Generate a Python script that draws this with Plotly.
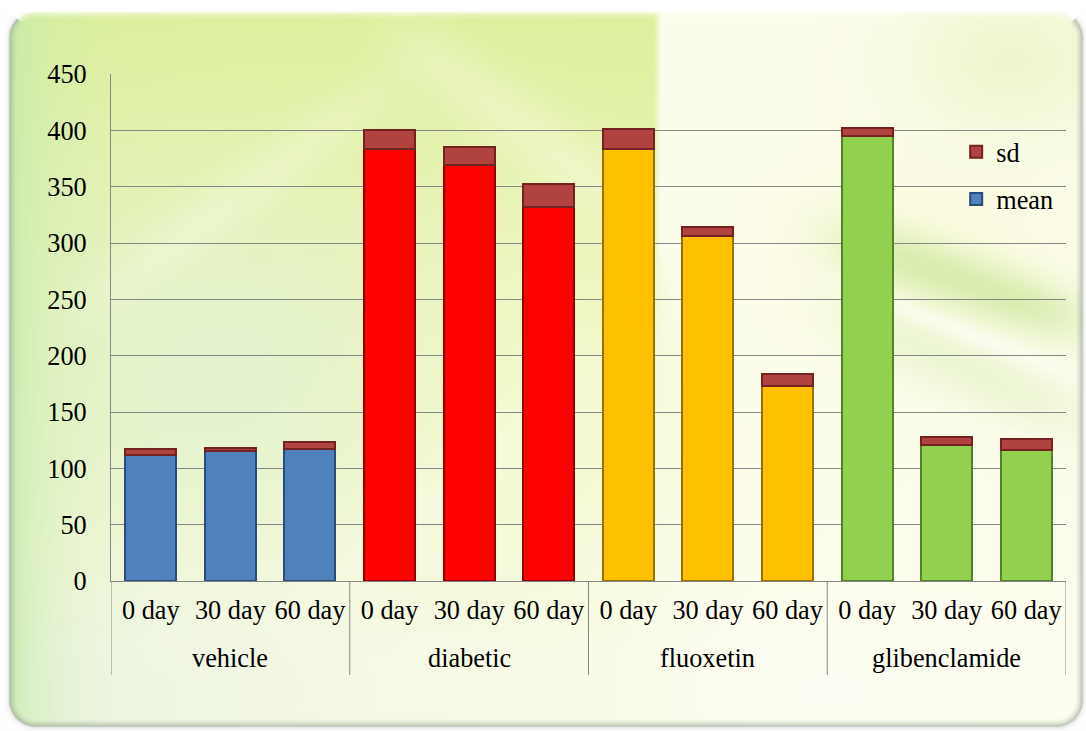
import base64
import struct
import zlib

import numpy as np
import plotly.graph_objects as go

# ---- data -------------------------------------------------------------
groups = ["vehicle", "diabetic", "fluoxetin", "glibenclamide"]
days = ["0 day", "30 day", "60 day"]
mean_values = [112, 115, 117, 383, 369, 332, 383, 306, 173, 395, 121, 116]
sd_values = [5, 3, 6, 17, 16, 20, 18, 8, 11, 7, 7, 10]
y_ticks = [0, 50, 100, 150, 200, 250, 300, 350, 400, 450]

group_fill = {"vehicle": "#4f81bd", "diabetic": "#ff0000",
              "fluoxetin": "#ffc000", "glibenclamide": "#92d050"}
group_edge = {"vehicle": "#2a4b78", "diabetic": "#8e0000",
              "fluoxetin": "#9a7000", "glibenclamide": "#52822a"}

n_days = len(days)
x_groups = [g for g in groups for _ in days]
x_days = [d for _ in groups for d in days]
x_pos = list(range(len(x_days)))

W, H = 1086, 731
M_L, M_R, M_T, M_B = 111, 20, 74, 150


# ---- decorative background (rounded panel with soft green/yellow wash) ----
def make_background():
    yy, xx = np.mgrid[0:H, 0:W].astype(float)

    def blob(cx, cy, sx, sy):
        return np.exp(-(((xx - cx) / sx) ** 2 + ((yy - cy) / sy) ** 2))

    def mix(base, color, weight):
        w = np.clip(weight, 0, 1)[..., None]
        return base * (1 - w) + np.array(color, float) * w

    def streak(p0, p1, width, strength, color=(255, 255, 245)):
        (ax, ay), (bx, by) = p0, p1
        dx, dy = bx - ax, by - ay
        length = np.hypot(dx, dy)
        t = ((xx - ax) * dx + (yy - ay) * dy) / length ** 2
        dist = np.abs((xx - ax) * dy - (yy - ay) * dx) / length
        along = np.exp(-((t - 0.5) / 0.45) ** 4)
        return color, strength * along * np.exp(-(dist / width) ** 2)

    # left panel: yellow-green wash, saturated at the top, paler lower down
    left = np.empty((H, W, 3))
    f1 = np.clip((yy - 20) / 380, 0, 1)[..., None]
    f2 = np.clip((yy - 400) / 250, 0, 1)[..., None]
    top_c = np.array([222, 240, 158.0])
    mid_c = np.array([240, 247, 200.0])
    low_c = np.array([249, 251, 230.0])
    left[:] = top_c * (1 - f1) + mid_c * f1
    left = left * (1 - f2) + low_c * f2
    left = mix(left, (226, 243, 210), 0.8 * blob(220, 380, 190, 170))
    left = mix(left, (246, 250, 205), 0.5 * blob(540, 360, 110, 160))
    left = mix(left, (236, 244, 228), 0.7 * blob(120, 700, 260, 110))
    left = mix(left, (200, 234, 172), 0.9 * np.exp(-(xx - 8) / 45))
    for p0, p1, wd, s in [((380, 20), (660, 230), 32, 0.3),
                          ((60, 330), (420, 60), 26, 0.25),
                          ((300, 600), (650, 330), 36, 0.25)]:
        c, w = streak(p0, p1, wd, s)
        left = mix(left, c, w)

    # right panel: creamy white with a green sweep below the legend
    right = np.empty((H, W, 3))
    right[:] = (253, 253, 236)
    right = mix(right, (236, 245, 200), 0.8 * blob(1010, 60, 110, 80))
    right = mix(right, (250, 250, 215), 0.6 * blob(920, 250, 140, 90))
    c, w = streak((820, 230), (1100, 330), 30, 0.85, (210, 235, 165))
    right = mix(right, c, w)
    c, w = streak((820, 300), (1100, 430), 34, 0.5, (222, 240, 190))
    right = mix(right, c, w)
    c, w = streak((820, 275), (1100, 385), 10, 0.6, (255, 255, 250))
    right = mix(right, c, w)
    right = mix(right, (253, 254, 244), 0.8 * blob(800, 690, 300, 100))

    # the two washes meet along a vertical seam that softens lower down
    soft = 1.5 + np.clip((yy - 250) / 250, 0, 1) * 40
    split = 1 / (1 + np.exp(-(657 - xx) / soft))
    col = left * split[..., None] + right * (1 - split[..., None])

    # rounded panel outline
    x0, y0, x1, y1, r = 9, 11, 1082, 726, 26
    cxp, cyp = (x0 + x1) / 2, (y0 + y1) / 2
    hw, hh = (x1 - x0) / 2, (y1 - y0) / 2
    qx = np.abs(xx - cxp) - (hw - r)
    qy = np.abs(yy - cyp) - (hh - r)
    d = (np.sqrt(np.maximum(qx, 0) ** 2 + np.maximum(qy, 0) ** 2)
         + np.minimum(np.maximum(qx, qy), 0) - r)

    top_d = yy - y0
    other_d = np.minimum(np.minimum(xx - x0, x1 - xx), y1 - yy)
    top_edge = (top_d < other_d)[..., None]
    band = (np.clip(1 - (-d) / 8, 0, 1) ** 1.6)[..., None]
    edge_col = np.where(top_edge, np.array([255, 255, 250.0]),
                        np.array([160, 175, 155.0]))
    col = col * (1 - band * 0.75) + edge_col * band * 0.75

    out = np.full((H, W, 3), 255.0)
    shadow = (np.exp(-np.maximum(d, 0) / 2.0) * (~top_edge[..., 0]))[..., None]
    out = out * (1 - 0.35 * shadow) + 150 * 0.35 * shadow
    alpha = np.clip(0.5 - d, 0, 1)[..., None]
    img = col * alpha + out * (1 - alpha)
    return np.clip(img, 0, 255).astype(np.uint8)


def png_data_uri(arr):
    h, w, _ = arr.shape
    diff = arr.astype(np.int16)
    diff[:, 1:, :] -= arr[:, :-1, :].astype(np.int16)
    diff = (diff % 256).astype(np.uint8).reshape(h, -1)
    raw = np.concatenate([np.ones((h, 1), np.uint8), diff], axis=1).tobytes()

    def chunk(tag, data):
        return (struct.pack(">I", len(data)) + tag + data
                + struct.pack(">I", zlib.crc32(tag + data) & 0xFFFFFFFF))

    png = (b"\x89PNG\r\n\x1a\n"
           + chunk(b"IHDR", struct.pack(">IIBBBBB", w, h, 8, 2, 0, 0, 0))
           + chunk(b"IDAT", zlib.compress(raw, 9))
           + chunk(b"IEND", b""))
    return "data:image/png;base64," + base64.b64encode(png).decode()


# ---- figure -----------------------------------------------------------
font = dict(family="Liberation Serif", size=26.3, color="#000000")
grid_col = "#868686"
plot_w = W - M_L - M_R
plot_h = H - M_T - M_B

fig = go.Figure()
fig.add_trace(go.Bar(
    x=x_pos, y=mean_values, name="mean", legendrank=2, legendgroup="mean",
    customdata=x_groups,
    marker=dict(color=[group_fill[g] for g in x_groups],
                line=dict(color=[group_edge[g] for g in x_groups], width=2)),
))
fig.add_trace(go.Bar(
    x=x_pos, y=sd_values, name="sd", legendrank=1, legendgroup="sd",
    marker=dict(color="#b0433f", line=dict(color="#742220", width=2)),
))

fig.add_layout_image(dict(
    source=png_data_uri(make_background()), xref="paper", yref="paper",
    x=-M_L / plot_w, y=1 + M_T / plot_h, sizex=W / plot_w, sizey=H / plot_h,
    xanchor="left", yanchor="top", sizing="stretch", layer="below",
))

# group dividers below the category axis and the group names between them
divider_depth = 94 / plot_h
for k in range(len(groups) + 1):
    fig.add_shape(type="line", xref="x", yref="paper",
                  x0=k * n_days - 0.5, x1=k * n_days - 0.5,
                  y0=0, y1=-divider_depth,
                  line=dict(color=grid_col, width=1))
for k, g in enumerate(groups):
    fig.add_annotation(x=k * n_days + (n_days - 1) / 2, xref="x",
                       y=-77 / plot_h, yref="paper", yanchor="middle",
                       text=g, showarrow=False, font=font)

fig.update_layout(
    width=W, height=H,
    margin=dict(l=M_L, r=M_R, t=M_T, b=M_B),
    barmode="stack", bargap=0.36,
    paper_bgcolor="white", plot_bgcolor="rgba(0,0,0,0)",
    font=font,
    showlegend=True,
    legend=dict(x=0.885, y=0.893, xanchor="left", yanchor="top",
                traceorder="grouped", tracegroupgap=10, itemsizing="constant",
                bgcolor="rgba(0,0,0,0)", font=font),
)
fig.update_yaxes(
    range=[0, 450], tickvals=y_ticks, showgrid=True, gridcolor=grid_col,
    gridwidth=1, showline=True, linecolor=grid_col, linewidth=1,
    zeroline=False, ticks="", ticklabelstandoff=18, tickfont=font,
)
fig.update_xaxes(
    range=[-0.5, len(x_pos) - 0.5], tickvals=x_pos, ticktext=x_days,
    showgrid=False, zeroline=False,
    showline=True, linecolor=grid_col, linewidth=1, ticks="",
    ticklabelstandoff=5, tickfont=font,
)

fig.write_html("out.html")
